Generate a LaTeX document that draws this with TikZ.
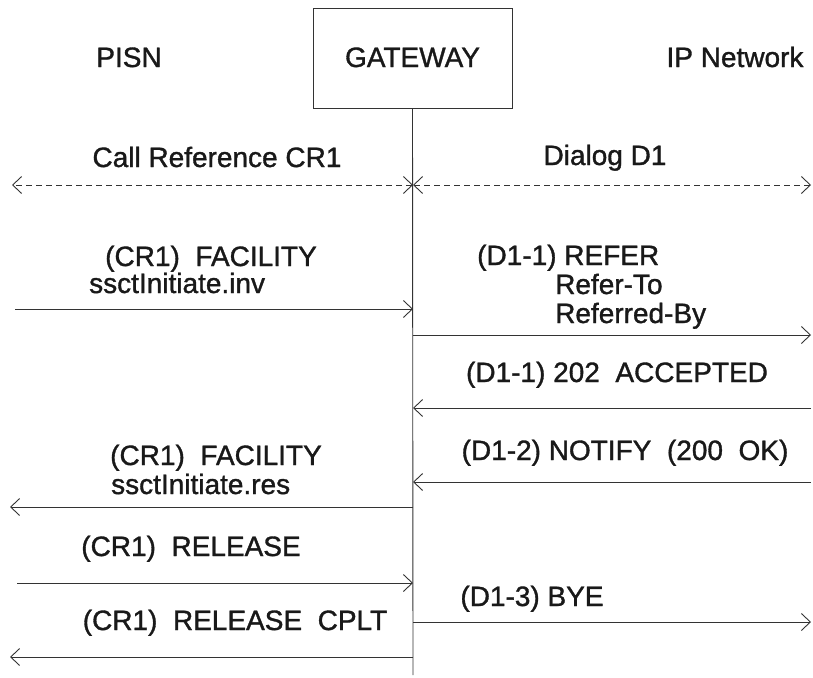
\documentclass[tikz,border=0pt]{standalone}
\usepackage{fontspec}
\setmainfont{Liberation Sans}
\newfontfamily\heavyfont{Liberation Sans}[FakeBold=1.2]
\usetikzlibrary{arrows.meta, positioning}

\begin{document}
\begin{tikzpicture}[x=1pt, y=-1pt,
  lbl/.style={font=\heavyfont\fontsize{28}{30}\selectfont, inner sep=0pt, text height=20pt, text depth=2pt, text=black!90},
  lbll/.style={lbl, anchor=west},
  msg/.style={draw=black!80, line width=0.9pt, -{Straight Barb[length=9pt, width=17pt, line width=0.9pt]}},
  span/.style={draw=black!80, line width=0.9pt, dashed, dash pattern=on 6pt off 4pt, {Straight Barb[length=9pt, width=17pt, line width=0.9pt]}-{Straight Barb[length=9pt, width=17pt, line width=0.9pt]}}
]
  \useasboundingbox (0,0) rectangle (813,677);

  % entities
  \node[lbl] (pisn) at (129,58) {PISN};
  \node[lbl, draw=black!80, line width=0.9pt, minimum width=199pt, minimum height=100pt] (gw) at (412.5,58) {GATEWAY};
  \node[lbl] (ipnet) at (735,58) {IP Network};
  \coordinate (gwend) at (413,675);
  \draw[draw=black!80, line width=0.9pt] (gw.south) -- (gwend);

  % references
  \coordinate (refL) at (12,185);
  \coordinate (refM) at (413,185);
  \coordinate (refR) at (811,185);
  \node[lbl] (cr1) at (217,158) {Call Reference CR1};
  \node[lbl] (d1) at (605,156) {Dialog D1};
  \draw[span] (refM) -- (refL);
  \draw[span] (refM) -- (refR);

  % message endpoints
  \coordinate (l1) at (15,309);  \coordinate (m1) at (413,309);
  \coordinate (m2) at (413,335); \coordinate (r2) at (811,335);
  \coordinate (r3) at (811,408); \coordinate (m3) at (413,408);
  \coordinate (r4) at (811,482); \coordinate (m4) at (413,482);
  \coordinate (m5) at (413,507); \coordinate (l5) at (10,507);
  \coordinate (l6) at (17,583);  \coordinate (m6) at (413,583);
  \coordinate (m7) at (413,622); \coordinate (r7) at (811,622);
  \coordinate (m8) at (413,657); \coordinate (l8) at (10,657);

  % labels
  \node[lbl] (fac1) at (211,257) {(CR1)\ \ FACILITY};
  \node[lbll] (inv) at (89,284) {ssctInitiate.inv};
  \node[lbll] (refer) at (477,256) {(D1-1) REFER};
  \node[lbll] (referto) at (555,285) {Refer-To};
  \node[lbll] (referby) at (555,314) {Referred-By};
  \node[lbl] (acc) at (617,373) {(D1-1) 202\ \ ACCEPTED};
  \node[lbl] (notify) at (625,451) {(D1-2) NOTIFY\ \ (200\ \ OK)};
  \node[lbl] (fac2) at (216,456) {(CR1)\ \ FACILITY};
  \node[lbll] (res) at (111,485) {ssctInitiate.res};
  \node[lbl] (rel) at (191,547) {(CR1)\ \ RELEASE};
  \node[lbl] (bye) at (532,597) {(D1-3) BYE};
  \node[lbl] (cplt) at (235,621) {(CR1)\ \ RELEASE\ \ CPLT};

  % messages
  \draw[msg] (l1) -- (m1);
  \draw[msg] (m2) -- (r2);
  \draw[msg] (r3) -- (m3);
  \draw[msg] (r4) -- (m4);
  \draw[msg] (m5) -- (l5);
  \draw[msg] (l6) -- (m6);
  \draw[msg] (m7) -- (r7);
  \draw[msg] (m8) -- (l8);
\end{tikzpicture}
\end{document}
